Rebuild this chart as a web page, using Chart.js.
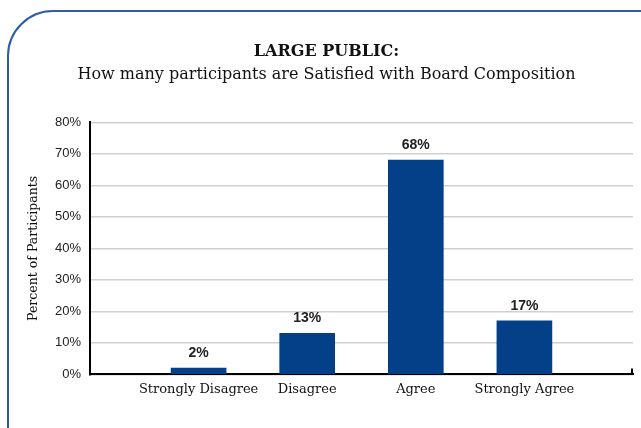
<!DOCTYPE html>
<html>
<head>
<meta charset="utf-8">
<script src="https://cdn.jsdelivr.net/npm/chart.js@4/dist/chart.umd.min.js"></script>
<style>
  body { margin: 0; background: #fff; }
  #wrap { position: relative; width: 641px; height: 428px; overflow: hidden; }
  #frame {
    position: absolute; left: 7px; top: 10px; width: 720px; height: 520px;
    border: 2px solid #2a5ea6; border-top-left-radius: 46px;
    pointer-events: none;
  }
</style>
</head>
<body>
<div id="wrap">
  <canvas id="myChart" width="641" height="428"></canvas>
  <div id="frame"></div>
</div>
<script>
const categories = ['Strongly Disagree', 'Disagree', 'Agree', 'Strongly Agree'];
const percents = [2, 13, 68, 17];
const yTicks = [0, 10, 20, 30, 40, 50, 60, 70, 80];

// blank slots at both ends so the bars sit where the original puts them
const labels = [''].concat(categories, ['']);
const values = [null].concat(percents, [null]);

const barLabels = {
    id: 'barLabels',
    afterDatasetsDraw(chart) {
        const ctx = chart.ctx;
        const meta = chart.getDatasetMeta(0);
        ctx.save();
        ctx.font = 'bold 14px "Liberation Sans", Arial, sans-serif';
        ctx.fillStyle = '#222';
        ctx.textAlign = 'center';
        ctx.textBaseline = 'bottom';
        meta.data.forEach((bar, i) => {
            if (values[i] == null) return;
            ctx.fillText(values[i] + '%', bar.x, bar.y - 8);
        });
        // little end tick on the x axis
        const area = chart.chartArea;
        ctx.strokeStyle = '#000';
        ctx.lineWidth = 2;
        ctx.beginPath();
        ctx.moveTo(area.right - 1, area.bottom);
        ctx.lineTo(area.right - 1, area.bottom - 6);
        ctx.stroke();
        ctx.restore();
    }
};

const data = {
    labels: labels,
    datasets: [{
        data: values,
        backgroundColor: '#034088',
        barThickness: 55,
    }]
};

const config = {
    type: 'bar',
    data: data,
    options: {
        responsive: false,
        animation: false,
        layout: {
            padding: { left: 20, right: 8, top: 0, bottom: 24 }
        },
        plugins: {
            legend: { display: false },
            tooltip: { enabled: false },
            title: {
                display: true,
                text: 'LARGE PUBLIC:',
                color: '#111',
                font: { family: '"DejaVu Serif", serif', size: 16, weight: 'bold' },
                padding: { top: 42, bottom: 4 }
            },
            subtitle: {
                display: true,
                text: 'How many participants are Satisfied with Board Composition',
                color: '#111',
                font: { family: '"DejaVu Serif", serif', size: 16 },
                padding: { top: 0, bottom: 38 }
            }
        },
        scales: {
            x: {
                offset: false,
                grid: { display: false, drawTicks: false },
                border: { color: '#000', width: 2 },
                ticks: {
                    autoSkip: false,
                    maxRotation: 0,
                    padding: 7,
                    color: '#111',
                    font: { family: '"DejaVu Serif", serif', size: 13 }
                }
            },
            y: {
                min: 0,
                max: 80,
                afterFit(axis) { axis.width = 70; },
                afterBuildTicks(axis) { axis.ticks = yTicks.map(v => ({ value: v })); },
                grid: { color: '#d0d0d0', lineWidth: 1.5, drawTicks: false },
                border: { color: '#000', width: 2 },
                ticks: {
                    padding: 9,
                    color: '#222',
                    font: { family: '"Liberation Sans", Arial, sans-serif', size: 13 },
                    callback: v => v + '%'
                },
                title: {
                    display: true,
                    text: 'Percent of Participants',
                    color: '#111',
                    padding: { top: 6, bottom: 4 },
                    font: { family: '"DejaVu Serif", serif', size: 12.5 }
                }
            }
        }
    },
    plugins: [barLabels]
};

var myChart = new Chart(
    document.getElementById('myChart'),
    config
);
</script>
</body>
</html>
